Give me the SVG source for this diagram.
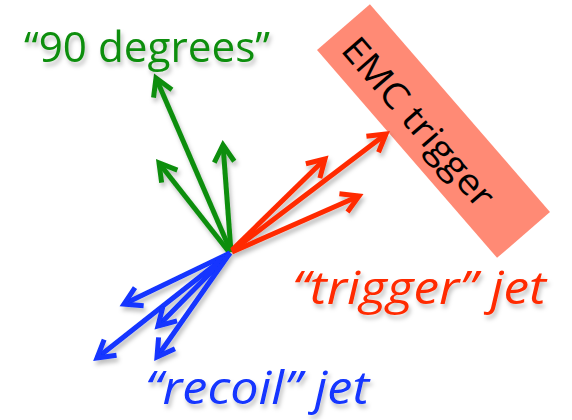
<svg xmlns="http://www.w3.org/2000/svg" width="572" height="420" viewBox="0 0 572 420">
<defs>
<style>
.g{stroke:#0E8E0E;}
.r{stroke:#FF2A00;}
.b{stroke:#1234FF;}
.arr{fill:none;stroke-width:5;stroke-linecap:butt;}
.lbl{font-family:"Open Sans","Liberation Sans",sans-serif;}
</style>
<filter id="sh" x="-20%" y="-20%" width="140%" height="150%">
<feDropShadow dx="2" dy="4" stdDeviation="2" flood-color="#000" flood-opacity="0.25"/>
</filter>
<marker id="mg" markerUnits="userSpaceOnUse" markerWidth="40" markerHeight="40" refX="0" refY="0" viewBox="-25 -20 40 40" orient="auto" overflow="visible">
<path d="M-17,-10 L0,0 L-17,10" fill="none" stroke="#0E8E0E" stroke-width="5" stroke-linejoin="miter"/>
</marker>
<marker id="mr" markerUnits="userSpaceOnUse" markerWidth="40" markerHeight="40" refX="0" refY="0" viewBox="-25 -20 40 40" orient="auto" overflow="visible">
<path d="M-17,-10 L0,0 L-17,10" fill="none" stroke="#FF2A00" stroke-width="5" stroke-linejoin="miter"/>
</marker>
<marker id="mb" markerUnits="userSpaceOnUse" markerWidth="40" markerHeight="40" refX="0" refY="0" viewBox="-25 -20 40 40" orient="auto" overflow="visible">
<path d="M-17,-10 L0,0 L-17,10" fill="none" stroke="#1234FF" stroke-width="5" stroke-linejoin="miter"/>
</marker>
</defs>
<rect width="572" height="420" fill="#fff"/>
<g id="emc-trigger">
<rect x="-137.5" y="-35" width="275" height="70" fill="#FF8A75" transform="translate(433.5,131) rotate(49.1)"/>
<text class="lbl" x="0" y="13" font-size="36" text-anchor="middle" fill="#000" textLength="212" lengthAdjust="spacingAndGlyphs" transform="translate(419,122) rotate(49.1)">EMC trigger</text>
</g>
<g id="connectors" filter="url(#sh)">
<g class="arr">
<line class="g" x1="231" y1="252" x2="156" y2="78" marker-end="url(#mg)"/>
<line class="g" x1="229" y1="252" x2="159" y2="163" marker-end="url(#mg)"/>
<line class="g" x1="231" y1="252" x2="223" y2="145" marker-end="url(#mg)"/>
<line class="r" x1="232" y1="251" x2="386" y2="134" marker-end="url(#mr)"/>
<line class="r" x1="232" y1="252" x2="359" y2="196" marker-end="url(#mr)"/>
<line class="r" x1="232" y1="250" x2="325" y2="159" marker-end="url(#mr)"/>
<line class="b" x1="230" y1="253" x2="124" y2="304" marker-end="url(#mb)"/>
<line class="b" x1="230" y1="253" x2="97" y2="358" marker-end="url(#mb)"/>
<line class="b" x1="230" y1="253" x2="158" y2="326" marker-end="url(#mb)"/>
<line class="b" x1="230" y1="253" x2="157" y2="357" marker-end="url(#mb)"/>
</g>
</g>
<g id="label-90" filter="url(#sh)">
<text class="lbl" x="24" y="62" font-size="42" fill="#0E8E0E" textLength="246" lengthAdjust="spacingAndGlyphs">“90 degrees”</text>
</g>
<g id="label-trigger" filter="url(#sh)">
<text class="lbl" x="292" y="304" font-size="46" font-style="italic" fill="#FF2A00" textLength="254" lengthAdjust="spacingAndGlyphs">“trigger” jet</text>
</g>
<g id="label-recoil" filter="url(#sh)">
<text class="lbl" x="145" y="404" font-size="46" font-style="italic" fill="#1234FF" textLength="224" lengthAdjust="spacingAndGlyphs">“recoil” jet</text>
</g>
</svg>
